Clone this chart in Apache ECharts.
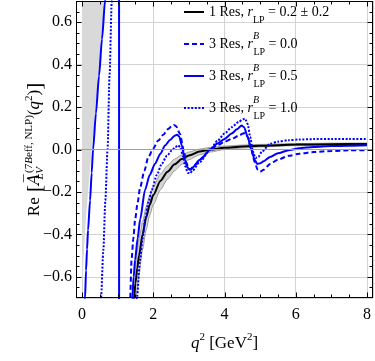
<!DOCTYPE html>
<html><head><meta charset="utf-8">
<script src="https://cdn.jsdelivr.net/npm/echarts@6/dist/echarts.min.js"></script>
<style>html,body{margin:0;padding:0;background:#fff}
#wrap{position:relative;width:375px;height:361px}
#c{position:absolute;left:0;top:0;width:375px;height:361px}
#box{position:absolute;left:76px;top:1px;width:297px;height:297px;box-sizing:border-box;border:1px solid #000;pointer-events:none;z-index:5}</style>
</head><body><div id="wrap"><div id="c"></div><div id="box"></div></div>
<script>
// ---- axis ranges and tick labels ----
const X_MIN = -0.17, X_MAX = 8.17, Y_MIN = -0.7, Y_MAX = 0.7;
const xTickValues = [0, 2, 4, 6, 8];
const yTickValues = [-0.6, -0.4, -0.2, 0.0, 0.2, 0.4, 0.6];
const X_MINOR_STEP = 0.5, Y_MINOR_STEP = 0.05;

// ---- grey shaded region (left) ----
const shadeX = [0.0, 0.0, 0.646, 0.41, 0.27, 0.11, 0.04, 0.0];
const shadeY = [-0.66, 0.70, 0.70, 0.23, 0.0, -0.32, -0.52, -0.66];

// ---- 1 Res, r_LP = 0.2 +- 0.2 ----
const res1X = [1.40, 1.46, 1.5, 1.55, 1.6, 1.7, 1.8, 1.9, 2.0, 2.2, 2.4, 2.6, 2.8, 3.0, 3.3, 3.6, 4.0, 4.5, 5.0, 6.0, 7.0, 8.0];
const res1Y = [-0.85, -0.70, -0.63, -0.56, -0.50, -0.40, -0.32, -0.26, -0.215, -0.148, -0.105, -0.07, -0.045, -0.028, -0.01, 0.0, 0.008, 0.014, 0.018, 0.023, 0.025, 0.026];
const bandHiY = [-0.70, -0.60, -0.54, -0.47, -0.42, -0.34, -0.27, -0.215, -0.175, -0.115, -0.075, -0.045, -0.025, -0.012, 0.002, 0.01, 0.016, 0.021, 0.024, 0.028, 0.030, 0.031];
const bandLoY = [-1.0, -0.82, -0.75, -0.66, -0.59, -0.47, -0.38, -0.31, -0.26, -0.19, -0.14, -0.10, -0.07, -0.048, -0.025, -0.012, 0.0, 0.007, 0.012, 0.018, 0.020, 0.021];

// ---- 3 Res, r^B_LP = 0.0 (dashed) ----
const r00X = [1.30, 1.35, 1.39, 1.44, 1.49, 1.56, 1.63, 1.75, 1.86, 2.0, 2.14, 2.28, 2.42, 2.52, 2.58, 2.64, 2.75, 2.85, 2.93, 2.98, 3.05, 3.2, 3.4, 3.6, 3.8, 4.0, 4.2, 4.4, 4.52, 4.58, 4.65, 4.75, 4.85, 4.93, 5.0, 5.1, 5.28, 5.5, 5.8, 6.1, 6.5, 7.0, 7.5, 8.0];
const r00Y = [-1.0, -0.70, -0.52, -0.42, -0.33, -0.25, -0.18, -0.10, -0.036, 0.005, 0.042, 0.07, 0.097, 0.11, 0.116, 0.11, 0.074, 0.0, -0.06, -0.088, -0.095, -0.07, -0.035, 0.0, 0.02, 0.036, 0.05, 0.065, 0.075, 0.078, 0.06, 0.0, -0.06, -0.095, -0.105, -0.095, -0.068, -0.048, -0.03, -0.02, -0.012, -0.007, -0.004, -0.003];

// ---- 3 Res, r^B_LP = 0.5 (solid) ----
const r05X = [0.06, 0.084, 0.112, 0.14, 0.168, 0.225, 0.27, 0.309, 0.39, 0.477, 0.56, 0.646, 0.72, 1.035, 1.045, 1.3, 1.36, 1.41, 1.45, 1.49, 1.56, 1.63, 1.77, 1.9, 2.05, 2.2, 2.33, 2.47, 2.61, 2.67, 2.73, 2.8, 2.89, 2.96, 3.02, 3.1, 3.3, 3.6, 3.8, 4.0, 4.2, 4.35, 4.48, 4.55, 4.65, 4.75, 4.85, 4.92, 5.0, 5.1, 5.28, 5.5, 5.8, 6.1, 6.5, 7.0, 7.5, 8.0];
const r05Y = [-0.85, -0.70, -0.57, -0.47, -0.38, -0.24, -0.11, 0.0, 0.17, 0.348, 0.52, 0.70, 0.88, 5.0, -5.0, -2.0, -1.0, -0.70, -0.60, -0.52, -0.42, -0.33, -0.19, -0.12, -0.067, -0.02, 0.019, 0.045, 0.066, 0.07, 0.06, 0.02, -0.05, -0.085, -0.095, -0.085, -0.05, 0.0, 0.028, 0.05, 0.075, 0.095, 0.113, 0.105, 0.06, 0.0, -0.05, -0.068, -0.065, -0.055, -0.035, -0.018, -0.003, 0.006, 0.012, 0.016, 0.018, 0.02];

// ---- 3 Res, r^B_LP = 1.0 (dotted) ----
const r10X = [0.50, 0.533, 0.598, 0.654, 0.716, 0.772, 0.834, 0.88, 0.95, 1.45, 1.50, 1.54, 1.63, 1.7, 1.77, 1.86, 1.96, 2.1, 2.24, 2.38, 2.52, 2.62, 2.70, 2.76, 2.83, 2.9, 2.97, 3.03, 3.1, 3.3, 3.6, 3.8, 4.0, 4.2, 4.4, 4.52, 4.58, 4.65, 4.72, 4.8, 4.87, 4.95, 5.05, 5.28, 5.5, 5.8, 6.1, 6.5, 7.0, 7.5, 8.0];
const r10Y = [-0.85, -0.70, -0.475, -0.24, 0.0, 0.35, 0.70, 1.0, null, -1.1, -0.85, -0.70, -0.52, -0.42, -0.33, -0.25, -0.19, -0.12, -0.067, -0.03, -0.005, 0.012, 0.02, 0.01, -0.03, -0.08, -0.11, -0.112, -0.10, -0.06, 0.0, 0.04, 0.075, 0.105, 0.13, 0.143, 0.145, 0.12, 0.06, -0.01, -0.04, -0.035, -0.01, 0.027, 0.037, 0.044, 0.047, 0.049, 0.05, 0.05, 0.05];

const FONT = 'Liberation Serif';
const zip = (xs, ys) => xs.map((x, i) => [x, ys[i]]);
const BLUE = '#0000ff';

const legendLabels = {
  res1: '{t|1 Res, }{i|r}{sub|LP}{t| = 0.2 ± 0.2}',
  r00: '{t|3 Res, }{i|r}{sup|B}{sub|LP}{t| = 0.0}',
  r05: '{t|3 Res, }{i|r}{sup|B}{sub|LP}{t| = 0.5}',
  r10: '{t|3 Res, }{i|r}{sup|B}{sub|LP}{t| = 1.0}'
};
const legendRich = {
  t: {fontFamily: FONT, fontSize: 14, lineHeight: 26, verticalAlign: 'middle', color: '#000'},
  i: {fontFamily: FONT, fontSize: 14, fontStyle: 'italic', lineHeight: 26, verticalAlign: 'middle', color: '#000'},
  sub: {fontFamily: FONT, fontSize: 10, lineHeight: 18, verticalAlign: 'bottom', color: '#000'},
  sup: {fontFamily: FONT, fontSize: 10, fontStyle: 'italic', lineHeight: 11, verticalAlign: 'top', width: 0.5, color: '#000'}
};
const yNameRich = {
  t: {fontFamily: FONT, fontSize: 17, lineHeight: 22, verticalAlign: 'middle', color: '#000'},
  br: {fontFamily: FONT, fontSize: 21, lineHeight: 22, verticalAlign: 'middle', color: '#000'},
  a: {fontFamily: 'DejaVu Serif', fontSize: 16, fontStyle: 'italic', lineHeight: 22, verticalAlign: 'middle', color: '#000'},
  i: {fontFamily: FONT, fontSize: 17, fontStyle: 'italic', lineHeight: 22, verticalAlign: 'middle', color: '#000'},
  lv: {fontFamily: FONT, fontSize: 11, fontStyle: 'italic', lineHeight: 12, verticalAlign: 'bottom', width: 0.5, color: '#000'},
  sup: {fontFamily: FONT, fontSize: 11, lineHeight: 9, verticalAlign: 'top', color: '#000'},
  supi: {fontFamily: FONT, fontSize: 11, fontStyle: 'italic', lineHeight: 9, verticalAlign: 'top', color: '#000'},
  s2: {fontFamily: FONT, fontSize: 11, lineHeight: 10, verticalAlign: 'top', color: '#000'}
};
const xNameRich = {
  t: {fontFamily: FONT, fontSize: 17, lineHeight: 24, verticalAlign: 'middle', color: '#000'},
  i: {fontFamily: FONT, fontSize: 17, fontStyle: 'italic', lineHeight: 24, verticalAlign: 'middle', color: '#000'},
  s2: {fontFamily: FONT, fontSize: 11, lineHeight: 14, verticalAlign: 'top', color: '#000'}
};

function yFmt(v) {
  if (Math.abs(v) < 1e-9) return '0.0';
  return (v < 0 ? '\u2212' : '') + Math.abs(v).toFixed(1);
}
function isTick(v, list) { return list.some(t => Math.abs(t - v) < 1e-6); }
function minorList(min, max, step, majors) {
  const out = [];
  for (let k = Math.ceil(min / step); k * step <= max + 1e-9; k++) {
    const v = +(k * step).toFixed(6);
    if (v > min && v < max && !isTick(v, majors)) out.push(v);
  }
  return out;
}
const xMinor = minorList(X_MIN, X_MAX, X_MINOR_STEP, xTickValues);
const yMinor = minorList(Y_MIN, Y_MAX, Y_MINOR_STEP, yTickValues);

function polyRender(xs, ys, fill) {
  return function (params, api) {
    const pts = xs.map((x, i) => api.coord([x, ys[i]]));
    const cs = params.coordSys;
    return {
      type: 'polygon', shape: {points: pts}, style: {fill: fill},
      clipPath: {type: 'rect', shape: {x: cs.x, y: cs.y, width: cs.width, height: cs.height}}
    };
  };
}
// frame + inward ticks on all four sides, positioned through the axis scales
function frameRender(params, api) {
  const snap = p => Math.round(p) + 0.5;
  const L = snap(api.coord([X_MIN, 0])[0]), R = snap(api.coord([X_MAX, 0])[0]) - 1;
  const T = snap(api.coord([0, Y_MAX])[1]), B = snap(api.coord([0, Y_MIN])[1]) - 1;
  const st = () => ({stroke: '#000', lineWidth: 1, fill: null});
  const ln = (x1, y1, x2, y2) => ({type: 'line', shape: {x1, y1, x2, y2}, style: st()});
  const ch = [ln(L, T, R, T), ln(R, T, R, B), ln(R, B, L, B), ln(L, B, L, T)];
  const xt = (vals, len) => vals.forEach(v => { const x = snap(api.coord([v, 0])[0]); ch.push(ln(x, B, x, B - len)); ch.push(ln(x, T, x, T + len)); });
  const yt = (vals, len) => vals.forEach(v => { const y = snap(api.coord([0, v])[1]); ch.push(ln(L, y, L + len, y)); ch.push(ln(R, y, R - len, y)); });
  xt(xTickValues, 5); xt(xMinor, 3); yt(yTickValues, 5); yt(yMinor, 3);
  return {type: 'group', children: ch};
}
const bandPolyX = res1X.concat(res1X.slice().reverse());
const bandPolyY = bandHiY.concat(bandLoY.slice().reverse());

const lineBase = {type: 'line', showSymbol: false, symbol: 'none', smooth: 0.25, smoothMonotone: 'x', connectNulls: false, clip: true, xAxisIndex: 0, yAxisIndex: 0};

const option = {
  animation: false,
  grid: {left: 76, right: 2, top: 1, bottom: 63, outerBoundsMode: 'none'},
  legend: {
    data: ['res1', 'r00', 'r05', 'r10'],
    orient: 'vertical', left: 183, top: 5, padding: 0, itemGap: 6,
    itemWidth: 20, itemHeight: 14, selectedMode: false,
    itemStyle: {opacity: 0},
    formatter: n => legendLabels[n],
    textStyle: {rich: legendRich}
  },
  xAxis: [{
    type: 'value', min: X_MIN, max: X_MAX, minInterval: 2, maxInterval: 2, position: 'bottom',
    axisLine: {show: false, onZero: false}, axisTick: {show: false}, minorTick: {show: false},
    splitLine: {show: true, lineStyle: {color: '#d3d3d3', width: 1}},
    axisLabel: {show: true, margin: 9, fontFamily: FONT, fontSize: 16, color: '#000',
      formatter: v => isTick(v, xTickValues) ? String(Math.round(v)) : ''},
    name: '{i|q}{s2|2}{t| [GeV}{s2|2}{t|]}', nameLocation: 'middle', nameGap: 34,
    nameTextStyle: {rich: xNameRich}
  }],
  yAxis: [{
    type: 'value', min: Y_MIN, max: Y_MAX, minInterval: 0.2, maxInterval: 0.2, position: 'left',
    axisLine: {show: false, onZero: false}, axisTick: {show: false}, minorTick: {show: false},
    splitLine: {show: true, lineStyle: {color: '#d3d3d3', width: 1}},
    axisLabel: {show: true, margin: 4, fontFamily: FONT, fontSize: 16, color: '#000',
      formatter: v => isTick(v, yTickValues) ? yFmt(v) : ''},
    name: '{t|Re}{br| [}{a|A\u0305}{lv|LV}{sup|(7}{supi|B}{sup|eff, NLP)}{t|(}{i|q}{s2|2}{t|)}{br|]}',
    nameLocation: 'middle', nameRotate: 90, nameGap: 30, nameMoveOverlap: false,
    nameTextStyle: {rich: yNameRich}
  }],
  series: [
    {type: 'custom', name: 'shade', coordinateSystem: 'cartesian2d', silent: true, z: 1,
      renderItem: polyRender(shadeX, shadeY, '#d9d9d9'), data: [[0, 0]]},
    {type: 'custom', name: 'band', coordinateSystem: 'cartesian2d', silent: true, z: 1,
      renderItem: polyRender(bandPolyX, bandPolyY, '#d4d4d4'), data: [[0, 0]]},
    Object.assign({}, lineBase, {name: 'bandHi', z: 2, data: zip(res1X, bandHiY), lineStyle: {color: '#8a8a8a', width: 0.8},
      markLine: {silent: true, symbol: 'none', label: {show: false}, lineStyle: {color: '#a0a0a0', width: 1, type: 'solid'}, data: [{yAxis: 0}]}}),
    Object.assign({}, lineBase, {name: 'bandLo', z: 2, data: zip(res1X, bandLoY), lineStyle: {color: '#8a8a8a', width: 0.8}}),
    Object.assign({}, lineBase, {name: 'res1', z: 3, data: zip(res1X, res1Y), color: '#000', lineStyle: {color: '#000', width: 2}}),
    Object.assign({}, lineBase, {name: 'r00', z: 4, data: zip(r00X, r00Y), color: BLUE, lineStyle: {color: BLUE, width: 2, type: [5, 3]}}),
    Object.assign({}, lineBase, {name: 'r05', z: 4, data: zip(r05X, r05Y), color: BLUE, lineStyle: {color: BLUE, width: 2}}),
    Object.assign({}, lineBase, {name: 'r10', z: 4, data: zip(r10X, r10Y), color: BLUE, lineStyle: {color: BLUE, width: 2, type: [2, 1.6]}}),
    {type: 'custom', name: 'frame', coordinateSystem: 'cartesian2d', silent: true, z: 10,
      renderItem: frameRender, data: [[0, 0]]}
  ]
};

const chart = echarts.init(document.getElementById('c'), null, {renderer: 'canvas'});
chart.setOption(option);
</script>
</body></html>
